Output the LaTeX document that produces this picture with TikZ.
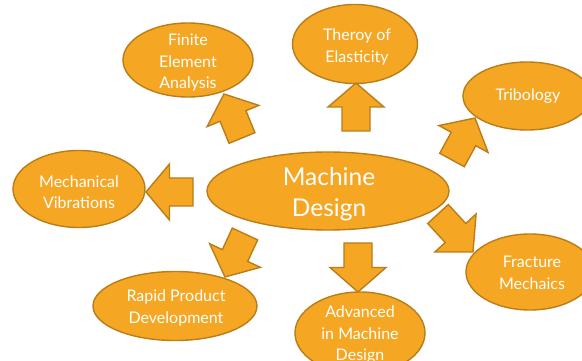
\documentclass[tikz,border=0pt]{standalone}
\usepackage{fontspec}
\setmainfont{Lato}
\usetikzlibrary{calc, shapes}

\definecolor{mdorange}{RGB}{245,166,35}
\definecolor{mdedge}{RGB}{185,125,25}

\tikzset{
  bubble/.style={draw=mdedge, fill=mdorange, line width=1.4pt, ellipse, inner sep=0pt},
  bubbletext/.style={text=white, align=center, font=\fontsize{16}{21.5}\selectfont},
  bigtext/.style={text=white, align=center, font=\fontsize{24.5}{31}\selectfont},
  blockarrow/.style={draw=mdedge, fill=mdorange, line width=1.4pt, line join=miter}
}

% block arrow from tail #1 to tip #2
\newcommand{\blockarrow}[2]{%
  \coordinate (mid) at ($(#1)!0.5!(#2)$);
  \draw[blockarrow] ($(#1)!14pt!90:(#2)$) -- ($(mid)!14pt!90:(#2)$) -- ($(mid)!28pt!90:(#2)$)
    -- (#2) -- ($(mid)!28pt!-90:(#2)$) -- ($(mid)!14pt!-90:(#2)$) -- ($(#1)!14pt!-90:(#2)$) -- cycle;
}

\begin{document}
\begin{tikzpicture}[x=1pt, y=-1pt]

\useasboundingbox (0,0) rectangle (582,361);

% centre
\node[bubble, minimum width=242pt, minimum height=78pt] (md) at (328,191) {};
\node[bigtext] (mdtext) at (329,194) {Machine\\Design};

% outer topics, clockwise from left top
\node[bubble, minimum width=130pt, minimum height=74pt] (fea) at (188,60) {};
\node[bubbletext] (featext) at (188,63) {Finite\\Element\\Analysis};

\node[bubble, minimum width=125pt, minimum height=79pt] (toe) at (355,44) {};
\node[bubbletext] (toetext) at (357,47) {Theroy of\\Elasticity};

\node[bubble, minimum width=128pt, minimum height=68pt] (tri) at (527,96) {};
\node[bubbletext] (tritext) at (528,96) {Tribology};

\node[bubble, minimum width=128pt, minimum height=76pt] (frm) at (530,272) {};
\node[bubbletext] (frmtext) at (532,273) {Fracture\\Mechaics};

\node[bubble, minimum width=130pt, minimum height=82pt] (amd) at (360,333) {};
\node[bubbletext] (amdtext) at (360,335) {Advanced\\in Machine\\Design};

\node[bubble, minimum width=164pt, minimum height=69pt] (rpd) at (175,306) {};
\node[bubbletext] (rpdtext) at (176,308) {Rapid Product\\Development};

\node[bubble, minimum width=132pt, minimum height=77pt] (mv) at (79,189) {};
\node[bubbletext] (mvtext) at (79,192) {Mechanical\\Vibrations};

% arrow ends
\coordinate (featail) at (242,138);  \coordinate (featip) at (224,94);
\coordinate (toetail) at (356,131);  \coordinate (toetip) at (356,83);
\coordinate (tritail) at (452,160);  \coordinate (tritip) at (475,118);
\coordinate (frmtail) at (438,214);  \coordinate (frmtip) at (473,252);
\coordinate (amdtail) at (358,243);  \coordinate (amdtip) at (358,292);
\coordinate (rpdtail) at (245,234);  \coordinate (rpdtip) at (225,277);
\coordinate (mvtail)  at (193,192);  \coordinate (mvtip)  at (146,192);

\blockarrow{featail}{featip}
\blockarrow{toetail}{toetip}
\blockarrow{tritail}{tritip}
\blockarrow{frmtail}{frmtip}
\blockarrow{amdtail}{amdtip}
\blockarrow{rpdtail}{rpdtip}
\blockarrow{mvtail}{mvtip}

\end{tikzpicture}
\end{document}
